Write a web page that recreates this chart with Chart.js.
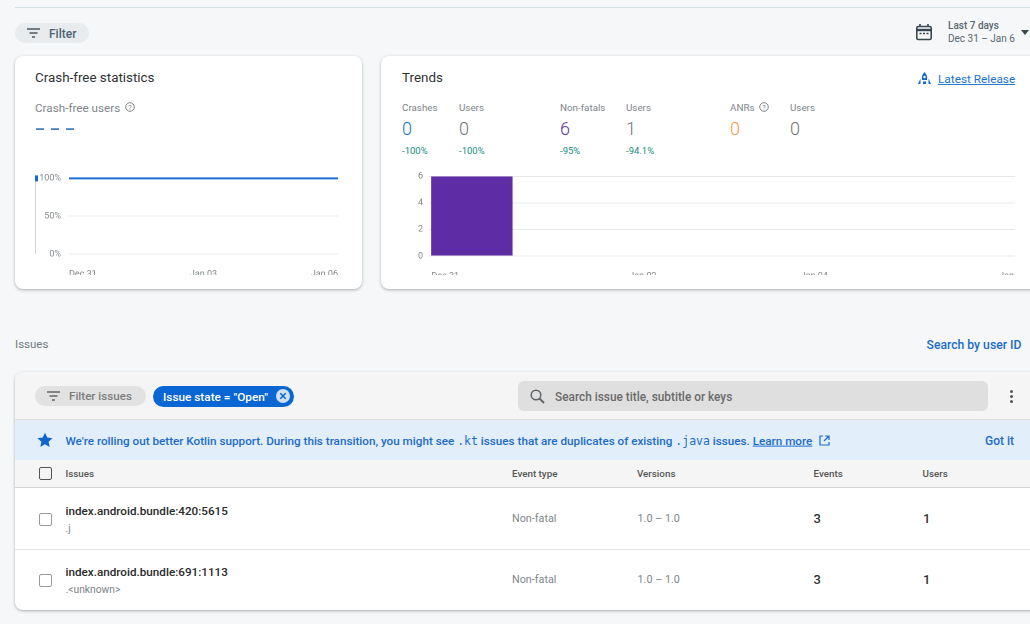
<!DOCTYPE html>
<html><head><meta charset="utf-8">
<script src="https://cdn.jsdelivr.net/npm/chart.js@4"></script>
<style>
html,body{margin:0;padding:0;width:1030px;height:624px;overflow:hidden;background:#f5f7f9;font-family:Roboto,sans-serif}
.a{position:absolute}
.t{position:absolute;white-space:nowrap;transform:translateY(-50%);line-height:1.2}
.card{position:absolute;background:#fff;border-radius:8px;box-shadow:0 1px 3px rgba(60,64,67,.4)}
.pill{position:absolute;border-radius:11px}
.cb{position:absolute;box-sizing:border-box;width:13px;height:13px;border:1.5px solid #777;border-radius:2px}
.m{font-family:"DejaVu Sans Mono",monospace;font-size:11.500px;font-weight:500}
svg{position:absolute;overflow:visible}
</style></head><body>
<div class="a" style="left:15px;top:7px;width:1015px;height:1px;background:#d3dfe2"></div>
<div class="pill" style="left:15px;top:23px;width:74px;height:20px;background:#e8ecef"></div>
<svg style="left:27px;top:28px" width="13" height="10"><path d="M0 1h13M2.5 5h8M5 9h3" stroke="#4a5a66" stroke-width="1.4"/></svg>
<div class="t" style="left:49px;top:33.500px;font-size:12px;font-weight:500;color:#4f6272">Filter</div>
<svg style="left:916px;top:24px" width="16" height="16"><rect x=".8" y="2.5" width="14.4" height="13" rx="1.5" fill="none" stroke="#37474f" stroke-width="1.6"/><path d="M1 6h14" stroke="#37474f" stroke-width="2.4"/><path d="M4 0v3M12 0v3" stroke="#37474f" stroke-width="1.6"/><path d="M3.5 9.5h2M7 9.5h2M10.500 9.5h2" stroke="#37474f" stroke-width="1.6"/></svg>
<div class="t" style="left:948px;top:25.500px;font-size:10px;font-weight:500;color:#5b6770">Last 7 days</div>
<div class="t" style="left:948px;top:38.500px;font-size:10px;color:#5b6770">Dec 31 – Jan 6</div>
<svg style="left:1021px;top:30px" width="8" height="5"><path d="M0 0h8L4 5z" fill="#37474f"/></svg>

<div class="card" style="left:15px;top:56px;width:347px;height:233px"></div>
<div class="t" style="left:35px;top:77.500px;font-size:13.400px;color:#2f3336">Crash-free statistics</div>
<div class="t" style="left:35px;top:107.500px;font-size:11.700px;color:#80868b">Crash-free users</div>
<svg style="left:125px;top:102px" width="10" height="10"><circle cx="5" cy="5" r="4.300" fill="none" stroke="#80868b"/><text x="5" y="7.500" font-size="7" text-anchor="middle" fill="#80868b">?</text></svg>
<svg style="left:36px;top:128px" width="38" height="3"><path d="M0 1.200h8M15 1.200h8M30 1.200h8" stroke="#3f7fc4" stroke-width="1.800"/></svg>
<canvas id="lineC" class="a" width="310" height="110" style="left:35px;top:165px;width:310px;height:110px"></canvas>

<div class="card" style="left:381px;top:56px;width:680px;height:233px"></div>
<div class="t" style="left:402px;top:77.500px;font-size:13.400px;color:#2f3336">Trends</div>
<svg style="left:918px;top:72px" width="13" height="13"><path d="M6.500 0C9 2.500 9.500 5 9 8H4C3.500 5 4 2.500 6.500 0z" fill="#1769c9"/><path d="M2.500 6.500L0 12h2.500zM10.500 6.500L13 12h-2.500zM5 9.500h3V12H5z" fill="#1769c9"/><circle cx="6.500" cy="5" r="1.200" fill="#fff"/></svg>
<div class="t" style="left:938px;top:78.500px;font-size:11.800px;color:#1a73d0;text-decoration:underline">Latest Release</div>
<div id="stats"></div>
<div class="a" style="left:400px;top:165px;width:615px;height:110px;overflow:hidden"><canvas id="barC" class="a" width="640" height="110" style="left:0;top:0;width:640px;height:110px"></canvas></div>

<div class="t" style="left:15px;top:344.500px;font-size:11.500px;color:#6f7b83">Issues</div>
<div class="t" style="left:926.500px;top:344.500px;font-size:12.200px;font-weight:500;color:#1a6cc4">Search by user ID</div>

<div class="card" style="left:15px;top:372px;width:1060px;height:238px;background:#fff"></div>
<div class="a" style="left:15px;top:372px;width:1015px;height:47px;background:#f5f5f5;border-radius:8px 0 0 0"></div>
<div class="a" style="left:15px;top:419px;width:1015px;height:1px;background:#dcdcdc"></div>
<div class="pill" style="left:35px;top:386px;width:111px;height:20px;background:#e2e2e2"></div>
<svg style="left:47px;top:391px" width="13" height="10"><path d="M0 1h13M2.500 5h8M5 9h3" stroke="#666" stroke-width="1.300"/></svg>
<div class="t" style="left:69px;top:396.500px;font-size:11.600px;font-weight:500;color:#7d7d7d">Filter issues</div>
<div class="pill" style="left:153px;top:385.500px;width:141px;height:21px;background:#0a66d2"></div>
<div class="t" style="left:163px;top:396.500px;font-size:11.800px;font-weight:500;color:#fff">Issue state = "Open"</div>
<svg style="left:276px;top:389px" width="14" height="14"><circle cx="7" cy="7" r="7" fill="#cfe0f7"/><path d="M4.300 4.300l5.400 5.400M9.700 4.300l-5.400 5.400" stroke="#0a66d2" stroke-width="1.600"/></svg>
<div class="a" style="left:518px;top:381px;width:470px;height:30px;background:#dfdfdf;border-radius:6px"></div>
<svg style="left:530px;top:389px" width="15" height="15"><circle cx="6" cy="6" r="4.800" fill="none" stroke="#5f6368" stroke-width="1.500"/><path d="M9.500 9.500L14 14" stroke="#5f6368" stroke-width="1.800"/></svg>
<div class="t" style="left:555px;top:396.500px;font-size:11.850px;font-weight:500;color:#6a6a6a">Search issue title, subtitle or keys</div>
<svg style="left:1009px;top:389px" width="5" height="15"><circle cx="2.500" cy="2.500" r="1.500" fill="#555"/><circle cx="2.500" cy="7.500" r="1.500" fill="#555"/><circle cx="2.500" cy="12.500" r="1.500" fill="#555"/></svg>

<div class="a" style="left:15px;top:420px;width:1015px;height:40px;background:#e3eefb"></div>
<svg style="left:37px;top:432px" width="16" height="16" viewBox="0 0 24 24"><path d="M12 1l3.400 7.300 7.900.9-5.900 5.400 1.600 7.900L12 18.500l-7 4 1.600-7.900L.7 9.200l7.900-.9z" fill="#1066cc"/></svg>
<div class="t" style="left:65.500px;top:440.500px;font-size:11.700px;font-weight:500;color:#1b6cc9">We're rolling out better Kotlin support. During this transition, you might see <span class="m">.kt</span> issues that are duplicates of existing <span class="m">.java</span> issues. <span style="text-decoration:underline">Learn more</span></div>
<svg style="left:819px;top:435px" width="11" height="11"><path d="M4 1H1v9h9V7M6 1h4v4M10 1L5 6" fill="none" stroke="#1b6cc9" stroke-width="1.200"/></svg>
<div class="t" style="left:985px;top:441px;font-size:12px;font-weight:500;color:#1b6cc9">Got it</div>

<div class="a" style="left:15px;top:460px;width:1015px;height:27px;background:#f5f5f5"></div>
<div class="a" style="left:15px;top:487px;width:1015px;height:1px;background:#d5d5d5"></div>
<div class="cb" style="left:39px;top:467px;border-color:#555"></div>
<div class="cb" style="left:39px;top:513px;border-color:#999"></div>
<div class="cb" style="left:39px;top:574px;border-color:#999"></div>
<div class="a" style="left:15px;top:549px;width:1015px;height:1px;background:#e6e6e6"></div>
<div id="table"></div>

<script>
const lineDays = ["Dec 31","Jan 01","Jan 02","Jan 03","Jan 04","Jan 05","Jan 06"];
const lineTickLabels = ["Dec 31","Jan 03","Jan 06"];
const crashFreeUsers = [100,100,100,100,100,100,100];
const barDays = ["Dec 31","Jan 01","Jan 02","Jan 03","Jan 04","Jan 05","Jan 06"];
const barTickLabels = ["Dec 31","Jan 02","Jan 04","Jan 06"];
const nonFatals = [6,0,0,0,0,0,0];
const statLabels = ["Crashes","Users","Non-fatals","Users","ANRs","Users"];
const statValues = ["0","0","6","1","0","0"];
const statChanges = ["-100%","-100%","-95%","-94.1%","",""];
const issueTitles = ["index.android.bundle:420:5615","index.android.bundle:691:1113"];
const issueSubs = [".j",".<unknown>"];
const issueTypes = ["Non-fatal","Non-fatal"];
const issueVersions = ["1.0 – 1.0","1.0 – 1.0"];
const issueEvents = [3,3];
const issueUsers = [1,1];

function txt(parent,x,y,s,size,color,weight){
  const d=document.createElement('div');d.className='t';
  d.style.cssText=`left:${x}px;top:${y}px;font-size:${size}px;color:${color};font-weight:${weight||400}`;
  d.textContent=s;parent.appendChild(d);
}
const st=document.getElementById('stats');
const statX=[402,459,560,626,730,790], statCol=['#1a6fc9','#70757a','#5e35a8','#70757a','#f09a4a','#70757a'];
statLabels.forEach((s,i)=>{
  txt(st,statX[i],107.500,s,9.800,'#80868b');
  txt(st,statX[i],128.500,statValues[i],18,statCol[i],300);
  if(statChanges[i])txt(st,statX[i],150.500,statChanges[i],9.500,'#12907c');
});
st.insertAdjacentHTML('beforeend','<svg style="left:759px;top:102px" width="10" height="10"><circle cx="5" cy="5" r="4.300" fill="none" stroke="#80868b"/><text x="5" y="7.500" font-size="7" text-anchor="middle" fill="#80868b">?</text></svg>');
const tb=document.getElementById('table');
[["Issues",65.500],["Event type",512],["Versions",637],["Events",813.500],["Users",922.500]].forEach(h=>txt(tb,h[1],474,h[0],9.800,'#555',500));
const rowY=[519,580], titleY=[510.500,571.500], subY=[529,589.500];
issueTitles.forEach((s,i)=>{
  txt(tb,65.500,titleY[i],s,11.700,'#2a2a2a',500);
  txt(tb,65.500,subY[i],issueSubs[i],10.300,'#80868b');
  txt(tb,512,rowY[i],issueTypes[i],10.800,'#80868b');
  txt(tb,637.500,rowY[i],issueVersions[i],10.800,'#80868b');
  txt(tb,813.500,rowY[i],String(issueEvents[i]),13,'#333',500);
  txt(tb,923,rowY[i],String(issueUsers[i]),13,'#333',500);
});

Chart.defaults.font.family='Roboto, sans-serif';
Chart.defaults.animation=false;
const grid='#e6e8ea', tickCol='#80868b';

const crashEdge={id:'crashEdge',afterDraw(c){
  const y=c.scales.y, g=c.ctx;g.save();
  g.strokeStyle='#d4d7da';g.lineWidth=1;g.beginPath();g.moveTo(.5,y.getPixelForValue(100));g.lineTo(.5,y.getPixelForValue(0));g.stroke();
  g.fillStyle='#1769c9';g.fillRect(0,y.getPixelForValue(100)-3,3,6);g.restore();
}};
new Chart(document.getElementById('lineC'),{type:'line',
  data:{labels:lineDays,datasets:[{data:crashFreeUsers,borderColor:'#1a6fd0',borderWidth:2,pointRadius:0,tension:0,clip:false}]},
  options:{responsive:false,devicePixelRatio:2,
    layout:{padding:{top:9.500,right:4}},
    plugins:{legend:{display:false},tooltip:{enabled:false}},
    scales:{
      x:{offset:false,grid:{display:false},border:{display:false},afterFit(s){s.height=21},
        ticks:{align:'inner',autoSkip:false,maxRotation:0,padding:7,color:tickCol,font:{size:9},
          callback(v,i){const l=lineDays[i];return lineTickLabels.includes(l)?l:''}}},
      y:{min:0,max:100,afterFit(s){s.width=34},grid:{color:grid,drawTicks:false},border:{display:false},
        ticks:{stepSize:50,padding:8,color:tickCol,font:{size:9},callback:v=>v+'%'}}
    }},plugins:[crashEdge]});

const shiftLabels={id:'shiftLabels',beforeDraw(c){
  const s=c.scales.x, nudges={"Dec 31":-40.500,"Jan 02":-14,"Jan 04":-14,"Jan 06":13};
  s.getLabelItems().forEach(it=>{
    const d=nudges[it.label];
    if(d!==undefined&&!it._moved){it.options.translation[0]+=d;it.options.textAlign='left';it._moved=true;}
  });
}};
new Chart(document.getElementById('barC'),{type:'bar',
  data:{labels:barDays,datasets:[{data:nonFatals,backgroundColor:'#5e2ca5',barPercentage:.95,categoryPercentage:1}]},
  options:{responsive:false,devicePixelRatio:2,
    layout:{padding:{top:9,right:11}},
    plugins:{legend:{display:false},tooltip:{enabled:false}},
    scales:{
      x:{grid:{display:false},border:{display:false},afterFit(s){s.height=19},
        ticks:{autoSkip:false,maxRotation:0,padding:7,color:tickCol,font:{size:9},
          callback(v,i){const l=barDays[i];return barTickLabels.includes(l)?l:''}}},
      y:{min:0,max:6,afterFit(s){s.width=29},grid:{color:grid,drawTicks:false},border:{display:false},
        ticks:{stepSize:2,padding:6,color:tickCol,font:{size:9}}}
    }},plugins:[shiftLabels]});
</script>
</body></html>
